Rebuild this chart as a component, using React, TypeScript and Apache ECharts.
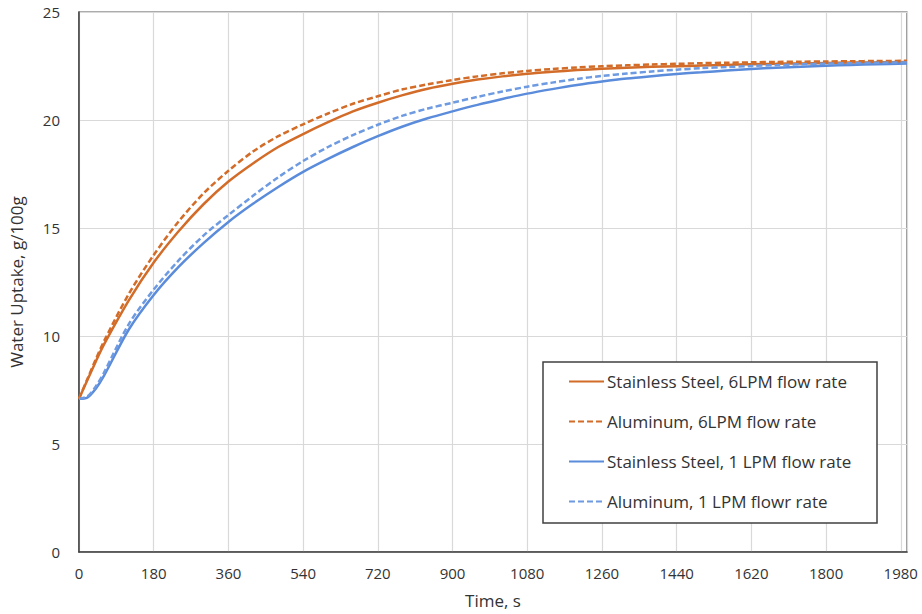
import React, { useEffect, useRef } from "react";
import * as echarts from "echarts";

const times = [0, 20, 40, 60, 120, 180, 240, 300, 360, 420, 480, 540, 600, 660, 720, 780, 840, 900, 960, 1020, 1080, 1140, 1200, 1260, 1320, 1380, 1440, 1500, 1560, 1620, 1680, 1740, 1800, 1860, 1920, 1995];

const ssSixLpm = [7.1, 7.95, 8.8, 9.6, 11.65, 13.4, 14.85, 16.1, 17.15, 18.0, 18.75, 19.35, 19.9, 20.4, 20.8, 21.15, 21.45, 21.68, 21.87, 22.02, 22.14, 22.23, 22.31, 22.37, 22.42, 22.46, 22.49, 22.52, 22.55, 22.58, 22.6, 22.62, 22.64, 22.66, 22.67, 22.69];
const alSixLpm = [7.1, 8.0, 8.9, 9.75, 11.95, 13.75, 15.3, 16.6, 17.65, 18.55, 19.25, 19.8, 20.3, 20.75, 21.1, 21.42, 21.65, 21.85, 22.02, 22.16, 22.27, 22.36, 22.43, 22.49, 22.53, 22.57, 22.6, 22.63, 22.65, 22.67, 22.69, 22.7, 22.71, 22.72, 22.73, 22.74];
const ssOneLpm = [7.1, 7.15, 7.55, 8.15, 10.3, 11.9, 13.2, 14.3, 15.28, 16.13, 16.9, 17.6, 18.2, 18.75, 19.25, 19.7, 20.08, 20.4, 20.7, 20.97, 21.22, 21.43, 21.62, 21.78, 21.92, 22.03, 22.13, 22.21, 22.29, 22.36, 22.42, 22.47, 22.51, 22.55, 22.58, 22.61];
const alOneLpm = [7.1, 7.2, 7.65, 8.3, 10.55, 12.15, 13.5, 14.65, 15.6, 16.5, 17.35, 18.1, 18.75, 19.3, 19.78, 20.2, 20.53, 20.8, 21.07, 21.32, 21.54, 21.73, 21.9, 22.04, 22.15, 22.25, 22.33, 22.4, 22.45, 22.5, 22.54, 22.58, 22.61, 22.63, 22.65, 22.67];

const seriesNames = [
  "Stainless Steel, 6LPM flow rate",
  "Aluminum, 6LPM flow rate",
  "Stainless Steel, 1 LPM flow rate",
  "Aluminum, 1 LPM flowr rate",
];

const xTickLabels = ["0", "180", "360", "540", "720", "900", "1080", "1260", "1440", "1620", "1800", "1980"];
const yTickLabels = ["0", "5", "10", "15", "20", "25"];

const ORANGE = "#D26C28";
const BLUE = "#5B8CDB";
const BLUE_LIGHT = "#6D9AE0";
const FONT = "'Open Sans', sans-serif";
const TEXT = "#333333";

function pairs(vals: number[]) {
  return times.map((t, i) => [t, vals[i]]);
}

export default function App() {
  const ref = useRef<HTMLDivElement>(null);

  useEffect(() => {
    if (!ref.current) return;
    const chart = echarts.init(ref.current, undefined, { renderer: "svg" });
    const mk = (name: string, vals: number[], color: string, dashed: boolean) => ({
      name,
      type: "line",
      data: pairs(vals),
      symbol: "none",
      smooth: 0.3,
      color,
      lineStyle: { color, width: 2.5, type: dashed ? [6, 3] : "solid" },
    });
    chart.setOption({
      animation: false,
      backgroundColor: "#ffffff",
      textStyle: { fontFamily: FONT },
      grid: {
        left: 77,
        right: 15,
        top: 12,
        bottom: 61,
        show: true,
        borderColor: "#5a5a5a",
        borderWidth: 1.2,
        containLabel: false,
      },
      graphic: [
        {
          type: "rect",
          z: 3,
          shape: { x: 543, y: 362, width: 334, height: 161 },
          style: { fill: "#ffffff", stroke: "#404040", lineWidth: 1.5 },
        },
      ],
      legend: {
        orient: "vertical",
        left: 568,
        top: 373,
        padding: 0,
        itemWidth: 35,
        itemHeight: 16,
        itemGap: 23,
        z: 5,
        data: seriesNames,
        itemStyle: { opacity: 0, borderWidth: 0 },
        textStyle: { fontFamily: FONT, fontSize: 17, color: TEXT, padding: [0, 0, 0, -2] },
      },
      xAxis: {
        type: "value",
        min: 0,
        max: 1995,
        interval: 180,
        name: "Time, s",
        nameLocation: "middle",
        nameGap: 40,
        nameTextStyle: { fontFamily: FONT, fontSize: 17, color: TEXT },
        axisLine: { show: true, lineStyle: { color: "#404040", width: 1.5 } },
        axisTick: { show: false },
        axisLabel: {
          fontFamily: FONT,
          fontSize: 15,
          color: TEXT,
          margin: 13,
          showMaxLabel: false,
          formatter: (v: number) => {
            const idx = Math.round(v / 180);
            return v % 180 === 0 && idx < xTickLabels.length ? xTickLabels[idx] : "";
          },
        },
        splitLine: { show: true, lineStyle: { color: "#d9d9d9", width: 1.2 } },
      },
      yAxis: {
        type: "value",
        min: 0,
        max: 25,
        interval: 5,
        name: "Water Uptake, g/100g",
        nameLocation: "middle",
        nameGap: 54,
        nameTextStyle: { fontFamily: FONT, fontSize: 17, color: TEXT },
        axisLine: { show: true, lineStyle: { color: "#404040", width: 1.5 } },
        axisTick: { show: false },
        axisLabel: {
          fontFamily: FONT,
          fontSize: 15,
          color: TEXT,
          margin: 19,
          formatter: (v: number) => yTickLabels[Math.round(v / 5)] ?? "",
        },
        splitLine: { show: true, lineStyle: { color: "#d9d9d9", width: 1.2 } },
      },
      series: [
        mk(seriesNames[0], ssSixLpm, ORANGE, false),
        mk(seriesNames[1], alSixLpm, ORANGE, true),
        mk(seriesNames[2], ssOneLpm, BLUE, false),
        mk(seriesNames[3], alOneLpm, BLUE_LIGHT, true),
      ],
    });
    return () => chart.dispose();
  }, []);

  return <div ref={ref} style={{ width: 922, height: 614, position: "absolute", left: 0, top: 0 }} />;
}
